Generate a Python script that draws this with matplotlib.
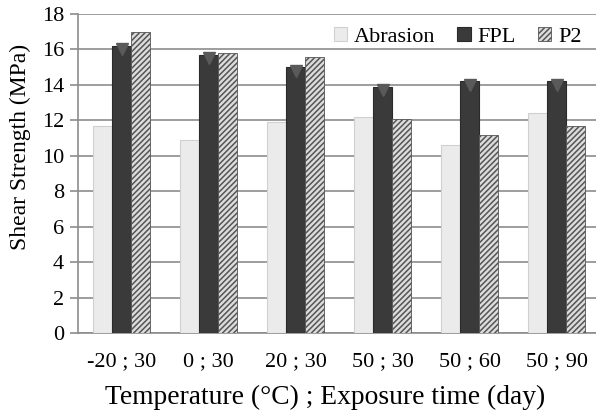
import numpy as np
import matplotlib
matplotlib.use("Agg")
import matplotlib.pyplot as plt

# ---- data -------------------------------------------------------
categories = ["-20 ; 30", "0 ; 30", "20 ; 30", "50 ; 30", "50 ; 60", "50 ; 90"]
abrasion = [11.7, 10.9, 11.9, 12.2, 10.6, 12.4]
fpl      = [16.2, 15.7, 15.0, 13.9, 14.2, 14.2]
p2       = [17.0, 15.8, 15.6, 12.1, 11.2, 11.7]
yticks   = [0, 2, 4, 6, 8, 10, 12, 14, 16, 18]

plt.rcParams['font.family'] = ['Liberation Serif', 'DejaVu Serif']
plt.rcParams['hatch.linewidth'] = 1.1
plt.rcParams['hatch.color'] = '#3a3a3a'

fig = plt.figure(figsize=(5.96, 4.12), dpi=100)
ax = fig.add_axes([78/596, 1 - 333/412, 522/596, 319/412])

x = np.arange(len(categories))
w = 0.215
grid_c = '#8c8c8c'

ax.bar(x - w, abrasion, w, color='#ebebeb', edgecolor='#d0d0d0',
       linewidth=0.8, label='Abrasion', zorder=3)
ax.bar(x, fpl, w, color='#3a3a3a', edgecolor='#2a2a2a',
       linewidth=0.8, label='FPL', zorder=3)
ax.bar(x + w, p2, w, color='#dcdcdc', edgecolor='#555555', hatch='//////',
       linewidth=0.6, label='P2', zorder=3)
# subtle bevel on top of the FPL bars
ax.plot(x, np.array(fpl) - 0.2, linestyle='none', marker='v',
        markersize=9, color='#5a5a5a', zorder=4)

ax.set_xlim(-0.5, len(categories) - 0.5)
ax.set_ylim(0, 18)
ax.set_yticks(yticks)
ax.set_xticks(x)
ax.set_xticklabels(categories)
ax.yaxis.grid(True, color=grid_c, linewidth=1.2, zorder=0)
ax.set_axisbelow(True)

for s in ['top', 'right']:
    ax.spines[s].set_visible(False)
for s in ['left', 'bottom']:
    ax.spines[s].set_color(grid_c)
    ax.spines[s].set_linewidth(1.2)

ax.tick_params(axis='y', length=6, width=1.2, color=grid_c, labelsize=16, pad=4)
ax.tick_params(axis='x', length=0, labelsize=16, pad=14)

ax.set_ylabel('Shear Strength (MPa)', fontsize=17)
ax.yaxis.set_label_coords(-0.09, 0.583)
ax.set_xlabel('Temperature (\u00b0C) ; Exposure time (day)', fontsize=19.8)
ax.xaxis.set_label_coords(0.473, -0.163)

ax.legend(loc='upper right', frameon=False, ncol=3, fontsize=16,
          handlelength=0.6, handleheight=0.6, handletextpad=0.3,
          columnspacing=1.0, bbox_to_anchor=(0.99, 1.0), borderaxespad=0.2)

fig.savefig('out.png', dpi=100)
